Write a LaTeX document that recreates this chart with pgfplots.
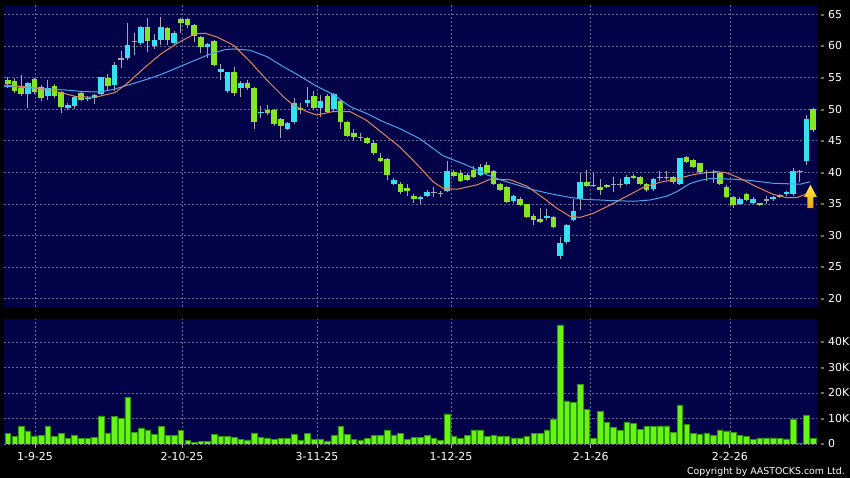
\documentclass[border=0pt]{standalone}
\usepackage{pgfplots}
\pgfplotsset{compat=1.18}
\usepackage{pgfplotstable}
\usepackage{fontspec}
\setmainfont{DejaVu Sans}

\definecolor{bgnavy}{RGB}{2,2,72}
\definecolor{gridcol}{RGB}{105,105,150}
\definecolor{upcol}{RGB}{50,225,242}
\definecolor{downcol}{RGB}{135,230,35}
\definecolor{wickcol}{RGB}{165,165,170}
\definecolor{volfill}{RGB}{105,245,20}
\definecolor{voledge}{RGB}{45,150,10}
\definecolor{maorange}{RGB}{225,135,85}
\definecolor{mablue}{RGB}{75,165,235}
\definecolor{tickgrey}{RGB}{170,170,170}

\pgfplotstableread{
i H L
0 55.0 53.4
1 54.9 52.5
2 55.4 52.0
3 54.2 50.1
4 54.9 52.4
5 53.8 51.3
6 54.6 51.4
7 53.9 51.8
8 52.9 49.3
9 50.9 49.9
10 52.1 49.95
11 52.7 51.2
12 52.0 51.2
13 52.3 50.8
14 55.1 52.2
15 55.6 52.9
16 57.4 52.8
17 59.2 56.5
18 63.6 57.8
19 62.1 58.5
20 63.1 60.2
21 64.35 59.1
22 61.9 59.5
23 64.6 60.2
24 63.0 60.1
25 62.3 60.2
26 64.4 62.0
27 64.4 62.8
28 63.5 60.65
29 61.5 58.9
30 60.5 58.1
31 60.9 56.8
32 57.2 54.6
33 55.9 52.6
34 56.6 52.0
35 54.4 51.85
36 54.6 53.0
37 53.5 46.9
38 50.4 48.5
39 50.6 49.0
40 50.0 47.3
41 48.6 45.4
42 48.0 46.6
43 51.7 47.7
44 50.9 49.2
45 53.5 50.3
46 52.8 49.9
47 52.2 48.8
48 52.3 49.4
49 52.6 49.7
50 51.5 46.9
51 48.1 45.5
52 46.8 45.0
53 46.2 44.9
54 45.5 44.4
55 45.1 42.7
56 43.0 41.6
57 42.2 38.8
58 39.1 37.9
59 38.5 36.6
60 38.2 36.2
61 36.5 35.1
62 36.3 34.96
63 37.2 36.1
64 37.6 36.1
65 37.1 36.1
66 41.7 36.9
67 40.3 39.2
68 40.4 38.5
69 39.8 38.6
70 41.0 39.1
71 41.3 39.4
72 41.6 39.7
73 40.4 37.9
74 38.3 37.0
75 37.8 35.1
76 36.4 35.2
77 36.0 34.6
78 35.0 32.7
79 33.4 31.6
80 34.4 31.9
81 34.2 32.5
82 33.1 31.1
83 29.8 26.2
84 31.8 28.7
85 35.8 32.2
86 39.9 34.0
87 40.3 37.6
88 39.9 37.6
89 38.9 36.4
90 38.2 37.5
91 39.2 36.9
92 38.9 37.5
93 39.6 37.9
94 39.7 38.9
95 39.4 37.9
96 38.3 36.9
97 39.1 37.1
98 40.2 38.6
99 40.2 38.7
100 39.4 38.2
101 42.3 37.9
102 42.6 41.4
103 42.1 40.6
104 41.5 39.9
105 40.3 38.6
106 40.3 38.3
107 40.0 38.0
108 37.9 35.9
109 36.3 34.3
110 36.0 34.8
111 36.7 35.4
112 36.0 34.9
113 35.2 34.7
114 36.2 35.0
115 36.3 35.5
116 36.6 35.9
117 37.1 36.3
118 40.6 36.3
119 40.4 38.5
120 49.0 41.1
121 50.1 46.3
}\wicks

\pgfplotstableread{
i O C
3 52.4 54.05
6 52.05 53.3
9 50.1 50.7
10 50.5 51.95
12 51.6 51.8
13 51.7 52.2
14 52.4 55.0
16 53.8 57.0
18 58.0 60.1
20 60.4 62.9
22 60.0 60.85
23 61.0 62.9
25 60.4 62.0
30 59.75 60.3
32 55.9 56.4
33 52.9 55.8
35 53.3 54.1
38 49.4 49.6
42 46.9 47.8
43 48.0 50.9
45 50.9 51.5
47 50.1 51.2
49 49.95 52.3
58 38.2 38.8
62 35.7 36.0
63 36.3 36.8
66 37.0 40.2
71 39.6 40.9
76 35.4 36.2
81 32.7 33.1
83 26.7 28.8
84 28.9 31.7
85 32.4 33.9
86 35.7 38.5
88 37.8 38.0
93 38.1 39.2
97 37.3 38.9
101 38.1 42.2
110 34.96 35.8
112 35.05 35.8
115 35.7 36.1
117 36.5 36.9
118 36.5 40.25
120 41.7 48.4
}\upc

\pgfplotstableread{
i O C
0 54.6 53.9
1 54.5 52.9
2 53.3 52.3
4 54.7 52.7
5 53.5 51.7
7 53.7 52.1
8 52.7 50.3
11 52.5 51.4
15 54.85 53.7
21 62.9 60.8
24 62.75 61.0
26 64.2 63.65
27 64.2 63.3
28 63.3 61.55
29 61.35 59.75
31 60.8 57.0
34 55.8 52.5
36 54.1 53.3
37 53.3 48.0
39 49.8 49.3
40 49.8 47.6
41 48.4 47.3
44 50.1 49.8
46 52.05 50.1
48 52.05 49.6
50 51.3 48.0
51 48.0 45.7
52 46.25 45.5
54 45.35 44.7
55 44.7 43.1
56 42.2 41.8
57 42.05 39.6
59 38.1 36.8
60 37.55 37.0
61 36.3 35.7
67 40.1 39.45
68 39.8 38.65
69 39.55 38.8
70 40.4 39.3
72 41.1 39.9
73 40.2 38.1
74 38.1 37.2
75 37.6 35.3
77 35.8 34.8
78 34.9 32.9
79 33.0 32.4
80 32.6 32.1
82 32.9 31.3
87 38.4 37.8
89 37.6 37.2
90 37.9 37.7
94 39.45 39.05
95 39.2 38.1
96 38.1 37.2
100 39.2 38.4
102 42.4 41.6
103 42.0 40.8
104 41.4 40.1
107 39.8 38.2
108 37.7 36.1
109 36.1 34.8
111 36.5 35.6
113 35.05 34.8
116 36.4 36.1
121 50.0 46.6
}\downc

\pgfplotstableread{
i v
17 57.9
19 60.65
53 45.5
64 36.8
65 36.6
91 38.0
92 38.1
98 39.2
99 39.2
105 39.9
106 39.9
114 35.6
119 40.1
}\doji

\pgfplotstableread{
i v
0 4.2
1 3.1
2 6.8
3 5.1
4 2.9
5 3.3
6 7.1
7 3.0
8 4.2
9 2.3
10 3.5
11 2.3
12 2.3
13 2.7
14 11.0
15 4.4
16 10.7
17 10.1
18 18.4
19 4.6
20 6.3
21 5.5
22 3.9
23 6.8
24 3.3
25 3.3
26 5.2
27 1.3
28 0.6
29 1.0
30 1.0
31 3.9
32 3.0
33 2.9
34 2.5
35 1.9
36 1.6
37 4.4
38 2.5
39 2.4
40 1.9
41 2.2
42 2.2
43 3.9
44 1.5
45 4.2
46 1.8
47 1.8
48 1.2
49 3.5
50 6.8
51 3.9
52 1.9
53 1.6
54 2.1
55 3.5
56 3.5
57 5.5
58 3.5
59 4.2
60 1.9
61 2.5
62 2.7
63 3.3
64 2.1
65 1.3
66 11.8
67 2.9
68 2.2
69 3.4
70 5.5
71 5.5
72 3.1
73 3.5
74 3.1
75 3.1
76 2.4
77 2.4
78 3.1
79 4.3
80 4.1
81 5.5
82 9.8
83 46.7
84 16.9
85 16.3
86 23.5
87 13.7
88 2.3
89 12.9
90 8.4
91 6.4
92 5.2
93 8.7
94 8.1
95 5.8
96 6.8
97 6.8
98 7.1
99 7.1
100 4.6
101 15.3
102 7.8
103 4.1
104 3.8
105 4.4
106 3.5
107 5.5
108 5.1
109 4.6
110 3.3
111 2.9
112 1.8
113 2.4
114 2.4
115 2.4
116 2.3
117 2.0
118 9.8
119 0.3
120 11.4
121 2.3
}\vol

\pgfplotstableread{
i v
-0.59 53.6
3.82 53.3
8.84 53.0
11.33 52.75
13.84 52.7
15.84 53.1
18.1 53.8
20.6 54.6
23.1 55.5
25.6 56.6
28.1 57.7
30.4 58.7
32.6 59.4
33.9 59.5
36.4 59.3
38.9 58.3
41.4 56.7
43.9 55.2
46.4 53.6
48.9 52.3
51.4 50.4
53.9 49.3
56.4 48.0
58.9 46.9
61.9 45.3
65.4 42.6
69.0 41.1
72.0 39.6
74.0 38.8
76.5 38.0
79.0 37.2
81.5 36.6
84.0 36.1
86.5 35.7
89.0 35.6
91.0 35.5
94.0 35.4
96.5 35.6
99.0 36.2
100.5 36.9
102.5 38.2
104.0 38.7
105.5 39.0
109.0 38.9
111.5 38.7
115.0 38.25
119.1 38.1
120.6 38.5
}\mablueT

\pgfplotstableread{
i v
-0.59 53.8
3.82 53.4
6.33 53.0
8.28 52.5
10.34 51.95
13.1 51.85
16.1 52.6
18.1 54.2
20.6 56.6
23.1 58.8
25.6 60.5
28.1 61.9
29.6 62.0
31.4 61.4
33.9 60.1
36.4 57.5
38.9 54.6
41.4 51.95
42.9 50.6
44.9 49.6
46.4 49.05
48.9 49.6
51.4 49.6
53.9 48.2
56.4 46.1
58.9 44.0
60.9 41.9
63.9 38.5
65.4 37.45
67.5 37.3
70.5 38.0
72.5 38.9
75.5 38.8
78.0 37.8
80.5 35.9
82.5 34.3
84.5 33.0
86.0 32.85
88.0 33.5
90.5 34.8
93.0 36.2
95.5 37.6
98.0 38.4
100.5 38.9
102.5 39.5
104.0 39.8
106.5 40.1
108.0 39.9
110.0 39.05
112.5 37.7
115.0 36.5
117.1 35.95
118.6 36.0
120.1 36.6
120.7 37.0
}\maorangeT

\begin{document}
\begin{tikzpicture}
\path[use as bounding box] (0bp,0bp) rectangle (850bp,478bp);
\fill[black] (0bp,0bp) rectangle (850bp,478bp);

% ---------------- price panel ----------------
\begin{axis}[
  at={(4bp,171bp)}, anchor=south west,
  scale only axis, width=813bp, height=302bp,
  xmin=-0.59, xmax=121.6, ymin=18.67, ymax=66.46,
  axis background/.style={fill=bgnavy},
  axis line style={draw=none},
  xtick={4.07,26.17,46.46,66.6,87.6,108.5}, xticklabels={},
  ytick={20,25,30,35,40,45,50,55,60,65},
  yticklabels={- 20,- 25,- 30,- 35,- 40,- 45,- 50,- 55,- 60,- 65},
  ytick pos=right, yticklabel pos=right,
  tick style={draw=none}, major tick length=0bp,
  grid=major,
  grid style={gridcol, dash pattern=on 2bp off 2bp, line width=0.6bp},
  yticklabel style={font=\fontsize{11}{13}\selectfont, text=white, anchor=west, inner sep=2bp, xshift=1.5bp},
]
% wicks
\addplot[draw=none, error bars/.cd, y dir=plus, y explicit, error mark=none,
  error bar style={draw=wickcol, line width=1bp, solid}]
  table[x=i, y=L, y error expr=\thisrow{H}-\thisrow{L}] {\wicks};
% up bodies
\addplot[draw=none, error bars/.cd, y dir=plus, y explicit, error mark=none,
  error bar style={draw=upcol, line width=5.6bp, solid}]
  table[x=i, y=O, y error expr=\thisrow{C}-\thisrow{O}] {\upc};
% down bodies
\addplot[draw=none, error bars/.cd, y dir=plus, y explicit, error mark=none,
  error bar style={draw=downcol, line width=5.6bp, solid}]
  table[x=i, y=C, y error expr=\thisrow{O}-\thisrow{C}] {\downc};
% doji
\addplot[only marks, mark=-, mark size=2.8bp, mark options={draw=wickcol, line width=1.2bp}]
  table[x=i, y=v] {\doji};
% moving averages
\addplot[mablue, line width=1bp, mark=none] table[x=i, y=v] {\mablueT};
\addplot[maorange, line width=1bp, mark=none] table[x=i, y=v] {\maorangeT};
% arrow annotation
\fill[top color={rgb,255:red,255;green,235;blue,70}, bottom color={rgb,255:red,235;green,165;blue,20}]
  (axis cs:120.61,38.0) -- (axis cs:121.57,36.1) -- (axis cs:121.06,36.1) -- (axis cs:121.06,34.3)
  -- (axis cs:120.16,34.3) -- (axis cs:120.16,36.1) -- (axis cs:119.66,36.1) -- cycle;
\end{axis}

% ---------------- volume panel ----------------
\begin{axis}[
  at={(4bp,34bp)}, anchor=south west,
  scale only axis, width=813bp, height=125bp,
  xmin=-0.59, xmax=121.6, ymin=0, ymax=49,
  axis background/.style={fill=bgnavy},
  axis line style={draw=none},
  xtick={4.07,26.17,46.46,66.6,87.6,108.5},
  xticklabels={1-9-25,2-10-25,3-11-25,1-12-25,2-1-26,2-2-26},
  xtick pos=bottom,
  ytick={0,10,20,30,40},
  yticklabels={- 0,- 10K,- 20K,- 30K,- 40K},
  ytick pos=right, yticklabel pos=right,
  tick align=outside, major tick length=4bp,
  xtick style={draw=tickgrey, line width=0.7bp},
  ytick style={draw=none},
  grid=major,
  grid style={gridcol, dash pattern=on 2bp off 2bp, line width=0.6bp},
  yticklabel style={font=\fontsize{11}{13}\selectfont, text=white, anchor=west, inner sep=2bp, xshift=-2.5bp},
  xticklabel style={font=\fontsize{11}{13}\selectfont, text=white, inner sep=2bp, yshift=-2bp},
]
\addplot[ybar, bar width=5.6bp, fill=volfill, draw=voledge, line width=0.5bp]
  table[x=i, y=v] {\vol};
\end{axis}

\node[anchor=base east, text=white, font=\fontsize{9.4}{11}\selectfont, inner sep=0pt] at (845bp,3.5bp) {Copyright by AASTOCKS.com Ltd.};
\end{tikzpicture}
\end{document}
